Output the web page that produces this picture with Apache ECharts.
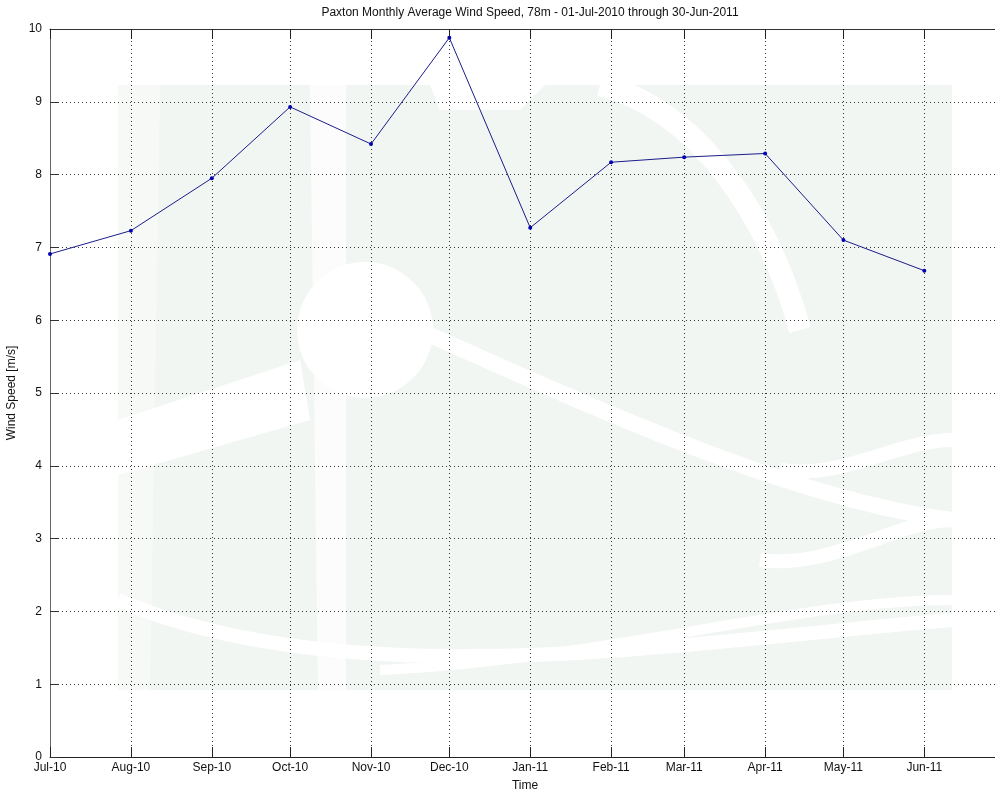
<!DOCTYPE html>
<html lang="en">
<head>
<meta charset="UTF-8">
<title>Paxton Monthly Average Wind Speed</title>
<script src="https://cdn.jsdelivr.net/npm/echarts@6/dist/echarts.min.js"></script>
<style>
	html, body { margin: 0; padding: 0; background: #fff; }
	#chart { width: 995px; height: 793px; }
</style>
</head>
<body>
	<div id="chart"></div>
	<script type="text/javascript">
		// monthly averages, one point on the first day of each month
		var months = ['2010-07-01', '2010-08-01', '2010-09-01', '2010-10-01', '2010-11-01', '2010-12-01',
			'2011-01-01', '2011-02-01', '2011-03-01', '2011-04-01', '2011-05-01', '2011-06-01'];
		var windSpeed = [6.91, 7.23, 7.95, 8.93, 8.42, 9.88, 7.27, 8.17, 8.24, 8.29, 7.10, 6.68];
		var monthNames = ['Jan', 'Feb', 'Mar', 'Apr', 'May', 'Jun', 'Jul', 'Aug', 'Sep', 'Oct', 'Nov', 'Dec'];
		var yTicks = [0, 1, 2, 3, 4, 5, 6, 7, 8, 9, 10];

		var font = 'Liberation Sans, Arial, sans-serif';
		var mychart = echarts.init(document.getElementById('chart'));

		function monthLabel(v) {
			var d = new Date(v);
			return monthNames[d.getMonth()] + '-' + String(d.getFullYear()).slice(2);
		}

		var xBase = {
			type: 'time',
			min: '2010-07-01',
			max: '2011-06-30',
			splitNumber: 12
		};

		// faint logo behind the plot
		var logo = [
			{ type: 'rect', shape: { x: 118, y: 85, width: 834, height: 605 }, style: { fill: '#f2f6f3' } },
			{ type: 'polygon', shape: { points: [[118, 85], [160, 85], [150, 690], [118, 690]] }, style: { fill: '#f7f9f7' } },
			{ type: 'polygon', shape: { points: [[310, 85], [346, 85], [346, 690], [318, 690]] }, style: { fill: '#fbfcfb' } },
			{ type: 'polygon', shape: { points: [[430, 85], [545, 85], [520, 110], [440, 110]] }, style: { fill: '#ffffff' } },
			{ type: 'circle', shape: { cx: 365, cy: 330, r: 68 }, style: { fill: '#ffffff' } },
			{ type: 'polygon', shape: { points: [[118, 420], [300, 360], [310, 420], [118, 475]] }, style: { fill: '#ffffff' } },
			{ type: 'bezierCurve', shape: { x1: 600, y1: 85, x2: 800, y2: 330, cpx1: 700, cpy1: 110, cpx2: 770, cpy2: 220 }, style: { stroke: '#ffffff', lineWidth: 22, fill: null } },
			{ type: 'bezierCurve', shape: { x1: 430, y1: 335, x2: 952, y2: 520, cpx1: 620, cpy1: 420, cpx2: 800, cpy2: 500 }, style: { stroke: '#ffffff', lineWidth: 16, fill: null } },
			{ type: 'bezierCurve', shape: { x1: 780, y1: 470, x2: 952, y2: 440, cpx1: 840, cpy1: 480, cpx2: 900, cpy2: 440 }, style: { stroke: '#ffffff', lineWidth: 14, fill: null } },
			{ type: 'bezierCurve', shape: { x1: 760, y1: 560, x2: 952, y2: 520, cpx1: 830, cpy1: 570, cpx2: 900, cpy2: 520 }, style: { stroke: '#ffffff', lineWidth: 14, fill: null } },
			{ type: 'bezierCurve', shape: { x1: 118, y1: 600, x2: 952, y2: 620, cpx1: 350, cpy1: 700, cpx2: 700, cpy2: 640 }, style: { stroke: '#ffffff', lineWidth: 14, fill: null } },
			{ type: 'bezierCurve', shape: { x1: 380, y1: 670, x2: 952, y2: 600, cpx1: 600, cpy1: 660, cpx2: 800, cpy2: 600 }, style: { stroke: '#ffffff', lineWidth: 10, fill: null } }
		];
		logo.forEach(function(el) { el.z = -10; el.silent = true; });

		var option = {
			animation: false,
			backgroundColor: '#ffffff',
			textStyle: { fontFamily: font },
			title: {
				text: 'Paxton Monthly Average Wind Speed, 78m - 01-Jul-2010 through 30-Jun-2011',
				left: 525,
				textAlign: 'center',
				top: 2,
				textStyle: { fontFamily: font, fontSize: 12, fontWeight: 'normal', color: '#111' }
			},
			graphic: { elements: logo },
			grid: { left: 50, right: -5, top: 29, bottom: 36, containLabel: false, outerBoundsMode: 'none' },
			xAxis: [
				Object.assign({}, xBase, {
					position: 'bottom',
					name: 'Time',
					nameLocation: 'middle',
					nameGap: 23,
					nameTextStyle: { fontFamily: font, fontSize: 12, color: '#111' },
					axisLine: { lineStyle: { color: '#222', width: 1 } },
					axisTick: { show: true, inside: true, length: 10, lineStyle: { color: '#222' } },
					axisLabel: { formatter: monthLabel, fontFamily: font, fontSize: 12, color: '#111', margin: 5, hideOverlap: false },
					splitLine: { show: true, lineStyle: { color: '#333', type: [1, 3], width: 1 } }
				}),
				Object.assign({}, xBase, {
					position: 'top',
					axisLine: { lineStyle: { color: '#333', width: 1 } },
					axisTick: { show: true, inside: true, length: 10, lineStyle: { color: '#222' } },
					axisLabel: { show: false },
					splitLine: { show: false }
				})
			],
			yAxis: {
				type: 'value',
				min: yTicks[0],
				max: yTicks[yTicks.length - 1],
				interval: 1,
				name: 'Wind Speed [m/s]',
				nameLocation: 'middle',
				nameGap: 26,
				nameTextStyle: { fontFamily: font, fontSize: 12, color: '#111' },
				axisLine: { show: true, lineStyle: { color: '#666', width: 1 } },
				axisTick: { show: true, inside: true, length: 9, lineStyle: { color: '#333' } },
				axisLabel: { fontFamily: font, fontSize: 12, color: '#111', margin: 8 },
				splitLine: { show: true, lineStyle: { color: '#333', type: [1, 3], width: 1 } }
			},
			series: [{
				type: 'line',
				xAxisIndex: 0,
				data: months.map(function(m, i) { return [m, windSpeed[i]]; }),
				symbol: 'circle',
				symbolSize: 4,
				lineStyle: { color: '#1c1c8a', width: 1 },
				itemStyle: { color: '#0000b0' }
			}]
		};
		mychart.setOption(option);
	</script>
</body>
</html>
